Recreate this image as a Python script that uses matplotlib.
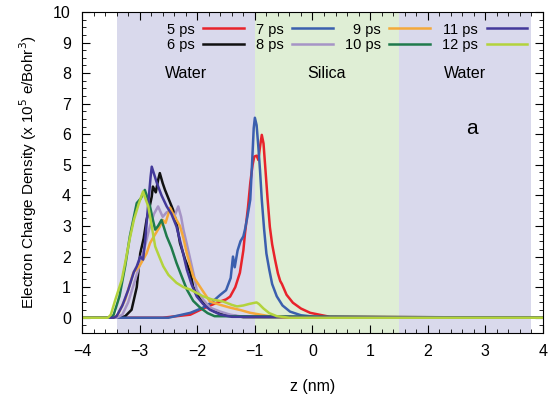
import numpy as np
import matplotlib.pyplot as plt
from matplotlib.ticker import MultipleLocator

plt.rcParams['font.family'] = ['Liberation Sans', 'DejaVu Sans']

labels = ['5 ps', '6 ps', '7 ps', '8 ps', '9 ps', '10 ps', '11 ps', '12 ps']
colors = ['#e8232b', '#111111', '#3b5fae', '#a694c6', '#f4a93a', '#1f7a4c', '#43399a', '#b3d33c']

x5 = [-4, -2.6, -2.12, -1.9, -1.66, -1.5, -1.43, -1.34, -1.26, -1.2, -1.17, -1.12, -1.08, -1.04, -1.01,
      -0.97, -0.94, -0.91, -0.88, -0.85, -0.82, -0.78, -0.74, -0.70, -0.65, -0.6, -0.56, -0.53, -0.45,
      -0.34, -0.2, -0.04, 0.3, 4]
y5 = [0, 0, 0.1, 0.3, 0.49, 0.6, 0.69, 1.0, 1.47, 2.2, 2.78, 3.6, 4.4, 5.0, 5.27,
      5.3, 5.16, 5.6, 5.98, 5.7, 4.93, 3.9, 2.97, 2.4, 1.9, 1.45, 1.2, 1.1, 0.75,
      0.49, 0.3, 0.16, 0.03, 0]

x6 = [-4, -3.35, -3.25, -3.14, -3.05, -2.99, -2.93, -2.88, -2.83, -2.79, -2.77, -2.72, -2.68, -2.65,
      -2.6, -2.56, -2.5, -2.42, -2.36, -2.3, -2.21, -2.12, -2.07, -1.98, -1.84, -1.7, -1.5, -1.2, 4]
y6 = [0, 0, 0.05, 0.26, 1.0, 2.1, 2.6, 3.2, 3.6, 3.96, 4.29, 4.1, 4.5, 4.73,
      4.4, 4.18, 3.9, 3.53, 3.1, 2.44, 1.9, 1.47, 1.0, 0.7, 0.37, 0.2, 0.1, 0.02, 0]

x7 = [-4, -2.5, -2.12, -1.9, -1.75, -1.6, -1.5, -1.42, -1.38, -1.35, -1.3, -1.25, -1.2, -1.17, -1.13,
      -1.08, -1.05, -1.02, -1.0, -0.97, -0.94, -0.91, -0.88, -0.84, -0.8, -0.75, -0.7, -0.62, -0.52,
      -0.39, -0.2, 0.1, 4]
y7 = [0, 0, 0.16, 0.33, 0.5, 0.75, 0.9, 1.3, 2.0, 1.65, 2.2, 2.5, 2.66, 2.9, 3.3,
      3.86, 5.0, 6.2, 6.54, 6.3, 5.6, 4.8, 3.86, 2.9, 2.1, 1.57, 1.1, 0.7, 0.4,
      0.2, 0.08, 0.02, 0]

x8 = [-4, -3.4, -3.3, -3.2, -3.1, -2.99, -2.9, -2.82, -2.75, -2.68, -2.6, -2.53, -2.47, -2.4, -2.33,
      -2.28, -2.24, -2.18, -2.12, -2.06, -2.01, -1.9, -1.78, -1.6, -1.43, -1.2, 4]
y8 = [0, 0, 0.1, 0.5, 1.1, 1.79, 2.4, 3.0, 3.4, 3.64, 3.3, 3.45, 3.5, 3.3, 3.64,
      3.3, 2.88, 2.4, 1.9, 1.4, 0.92, 0.6, 0.33, 0.2, 0.1, 0.03, 0]

x9 = [-4, -3.45, -3.38, -3.25, -3.11, -3.0, -2.94, -2.88, -2.82, -2.74, -2.65, -2.6, -2.55, -2.47,
      -2.42, -2.36, -2.3, -2.24, -2.18, -2.07, -1.92, -1.78, -1.6, -1.43, -1.25, -1.08, -0.9, -0.75,
      -0.5, 4]
y9 = [0, 0, 0.1, 0.6, 1.47, 1.7, 1.9, 2.1, 2.44, 2.7, 2.98, 3.2, 3.1, 3.6,
      3.4, 3.2, 3.0, 2.6, 2.1, 1.35, 0.92, 0.53, 0.42, 0.33, 0.25, 0.16, 0.1, 0.05,
      0.01, 0]

x10 = [-4, -3.5, -3.45, -3.35, -3.25, -3.17, -3.1, -3.05, -2.98, -2.91, -2.86, -2.82, -2.77, -2.73,
       -2.68, -2.62, -2.57, -2.53, -2.45, -2.36, -2.27, -2.18, -2.07, -1.95, -1.82, -1.7, 4]
y10 = [0, 0, 0.1, 0.7, 1.7, 2.66, 3.3, 3.75, 3.9, 4.18, 3.9, 3.64, 3.2, 2.88,
       3.0, 3.2, 2.9, 2.66, 2.3, 1.79, 1.35, 0.92, 0.55, 0.33, 0.15, 0.05, 0]

x11 = [-4, -3.45, -3.4, -3.3, -3.2, -3.1, -3.05, -2.99, -2.94, -2.9, -2.85, -2.81, -2.79, -2.75,
       -2.7, -2.62, -2.53, -2.45, -2.36, -2.27, -2.18, -2.1, -2.01, -1.9, -1.78, -1.6, -1.4, 4]
y11 = [0, 0, 0.05, 0.4, 0.9, 1.5, 1.68, 2.0, 1.9, 2.6, 3.75, 4.6, 4.94, 4.7,
       4.4, 4.0, 3.64, 3.4, 2.98, 2.3, 1.57, 1.1, 0.7, 0.45, 0.26, 0.1, 0.03, 0]

x12 = [-4, -3.55, -3.5, -3.42, -3.31, -3.24, -3.17, -3.1, -3.02, -2.94, -2.9, -2.85, -2.8, -2.73,
       -2.66, -2.59, -2.5, -2.36, -2.24, -2.12, -2.0, -1.9, -1.75, -1.55, -1.4, -1.31, -1.2, -1.1,
       -1.0, -0.97, -0.93, -0.85, -0.75, -0.62, -0.4, 4]
y12 = [0, 0, 0.1, 0.6, 1.24, 1.9, 2.6, 3.2, 3.7, 4.13, 3.9, 3.64, 3.1, 2.33,
       2.0, 1.68, 1.4, 1.14, 1.0, 0.92, 0.8, 0.7, 0.6, 0.53, 0.42, 0.37, 0.4, 0.45,
       0.49, 0.5, 0.45, 0.3, 0.15, 0.05, 0.0, 0]

xs = [x5, x6, x7, x8, x9, x10, x11, x12]
ys = [y5, y6, y7, y8, y9, y10, y11, y12]

# regions along z
regions = [(-3.4, -1.0, '#d9d9ec', 'Water'), (-1.0, 1.5, '#dfeed5', 'Silica'), (1.5, 3.8, '#d9d9ec', 'Water')]

fig = plt.figure(figsize=(5.52, 3.99), dpi=100)
ax = fig.add_axes([0.1486, 0.1654, 0.835, 0.8046])

for a, b, c, name in regions:
    ax.axvspan(a, b, color=c, lw=0, zorder=0)
    ax.text((a + b) / 2, 8.0, name, ha='center', va='center', fontsize=11.5)
ax.text(2.77, 6.2, 'a', ha='center', va='center', fontsize=15)

for x, y, c, lab in zip(xs, ys, colors, labels):
    ax.plot(x, y, color=c, lw=1.8, label=lab, zorder=2)

ax.set_xlim(-4, 4)
ax.set_ylim(-0.5, 10)
ax.set_xticks(range(-4, 5))
ax.set_yticks(range(0, 11))
ax.xaxis.set_minor_locator(MultipleLocator(0.2))
ax.yaxis.set_minor_locator(MultipleLocator(0.25))
ax.tick_params(which='both', direction='in', top=True, right=True, labelsize=11.5)
ax.tick_params(which='major', length=6, pad=8)
ax.tick_params(which='minor', length=3)

ax.set_xlabel('z (nm)', fontsize=11.5, labelpad=14)
ax.set_ylabel('Electron Charge Density (x 10$^5$ e/Bohr$^3$)', fontsize=11, labelpad=10)

ax.legend(ncol=4, frameon=False, markerfirst=False, loc='upper center', bbox_to_anchor=(0.575, 1.008),
          fontsize=10.5, handlelength=2.8, columnspacing=0.8, handletextpad=0.6, labelspacing=0.1)

fig.savefig('out.png', dpi=100)
